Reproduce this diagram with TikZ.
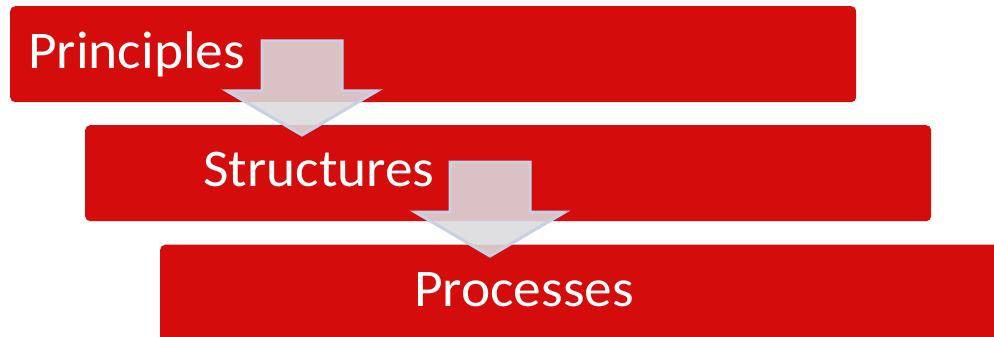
\documentclass[tikz,border=0pt]{standalone}
\usepackage{fontspec}
\setmainfont{Carlito}[FakeStretch=1.045]
\definecolor{boxred}{RGB}{212,12,12}
\definecolor{arrowfill}{RGB}{219,219,221}
\definecolor{arrowline}{RGB}{200,208,228}
\tikzset{
  box/.style={rectangle, rounded corners=5pt, fill=boxred, draw=none, inner sep=0pt, anchor=north west},
  label/.style={anchor=base west, inner sep=0pt, text=white, font=\fontsize{53}{60}\selectfont},
  bigarrow/.style={fill=arrowfill, fill opacity=0.88, draw=arrowline, line width=3pt, line join=miter},
  downarr/.pic={\path[bigarrow] (-40,0) -- (40,0) -- (40,50) -- (75,50) -- (0,94) -- (-75,50) -- (-40,50) -- cycle;}
}
\begin{document}
\begin{tikzpicture}[x=1pt,y=-1pt]
\useasboundingbox (0,0) rectangle (994,337);
\clip (0,0) rectangle (994,337);
\node[box, minimum width=846pt, minimum height=96pt] (b1) at (10,6) {};
\node[box, minimum width=846pt, minimum height=96pt] (b2) at (85,125) {};
\node[box, minimum width=860pt, minimum height=110pt] (b3) at (160,244.5) {};
\node[label] (t1) at (28,68.3) {Principles};
\node[label] (t2) at (203,186.7) {Structures};
\node[label] (t3) at (414,306.7) {Processes};
\coordinate (a1) at (302,41);
\coordinate (a2) at (490,162);
\pic at (a1) {downarr};
\pic at (a2) {downarr};
\end{tikzpicture}
\end{document}
